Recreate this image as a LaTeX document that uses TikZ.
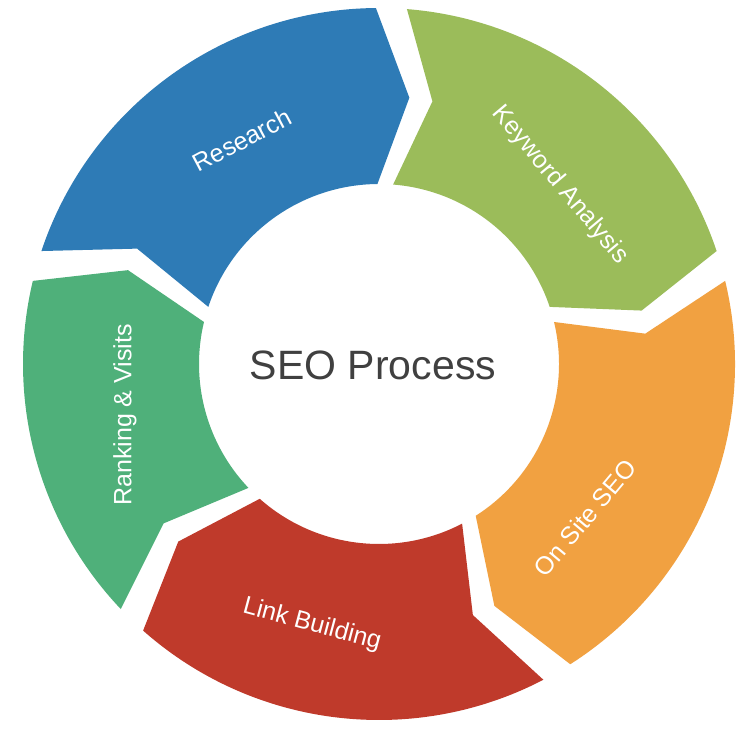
\documentclass[tikz,border=0pt]{standalone}
\usepackage{fontspec}
\setmainfont{Liberation Sans}
\newcommand\seoseg[3]{%
  \pgfmathsetmacro\sa{#1-2.5}\pgfmathsetmacro\sb{#2+2.5}%
  \pgfmathsetmacro\st{#2+2.5-7}\pgfmathsetmacro\sn{#1-2.5-7}%
  \fill[#3] (\sa:356) arc[start angle=\sa,end angle=\sb,radius=356] -- (\st:268) -- (\sb:180)
    arc[start angle=\sb,end angle=\sa,radius=180] -- (\sn:268) -- cycle;}
\definecolor{cBlue}{HTML}{2E7BB6}
\definecolor{cGreen}{HTML}{9BBC5A}
\definecolor{cOrange}{HTML}{F1A141}
\definecolor{cRed}{HTML}{BF3A2B}
\definecolor{cTeal}{HTML}{4FB07A}
\tikzset{lab/.style={text=white,font=\fontsize{25}{27}\selectfont}}
\begin{document}
\begin{tikzpicture}[x=1pt,y=1pt]
\useasboundingbox (0,0) rectangle (749,728);
\fill[white] (0,0) rectangle (749,728);
\begin{scope}[shift={(379,364)}]
\seoseg{164}{88}{cBlue}
\seoseg{88}{16}{cGreen}
\seoseg{16}{-60}{cOrange}
\seoseg{-60}{-134}{cRed}
\seoseg{-134}{-196}{cTeal}
\end{scope}
\node[lab,rotate=28] (research) at (242,588) {Research};
\node[lab,rotate=-50] (keyword) at (560,543) {Keyword Analysis};
\node[lab,rotate=50] (onsite) at (585,210) {On Site SEO};
\node[lab,rotate=-15] (link) at (312,103) {Link Building};
\node[lab,rotate=90] (rank) at (125,313) {Ranking \& Visits};
\node[text=black!75,font=\fontsize{41}{44}\selectfont] (center) at (373,363) {SEO Process};
\end{tikzpicture}
\end{document}
